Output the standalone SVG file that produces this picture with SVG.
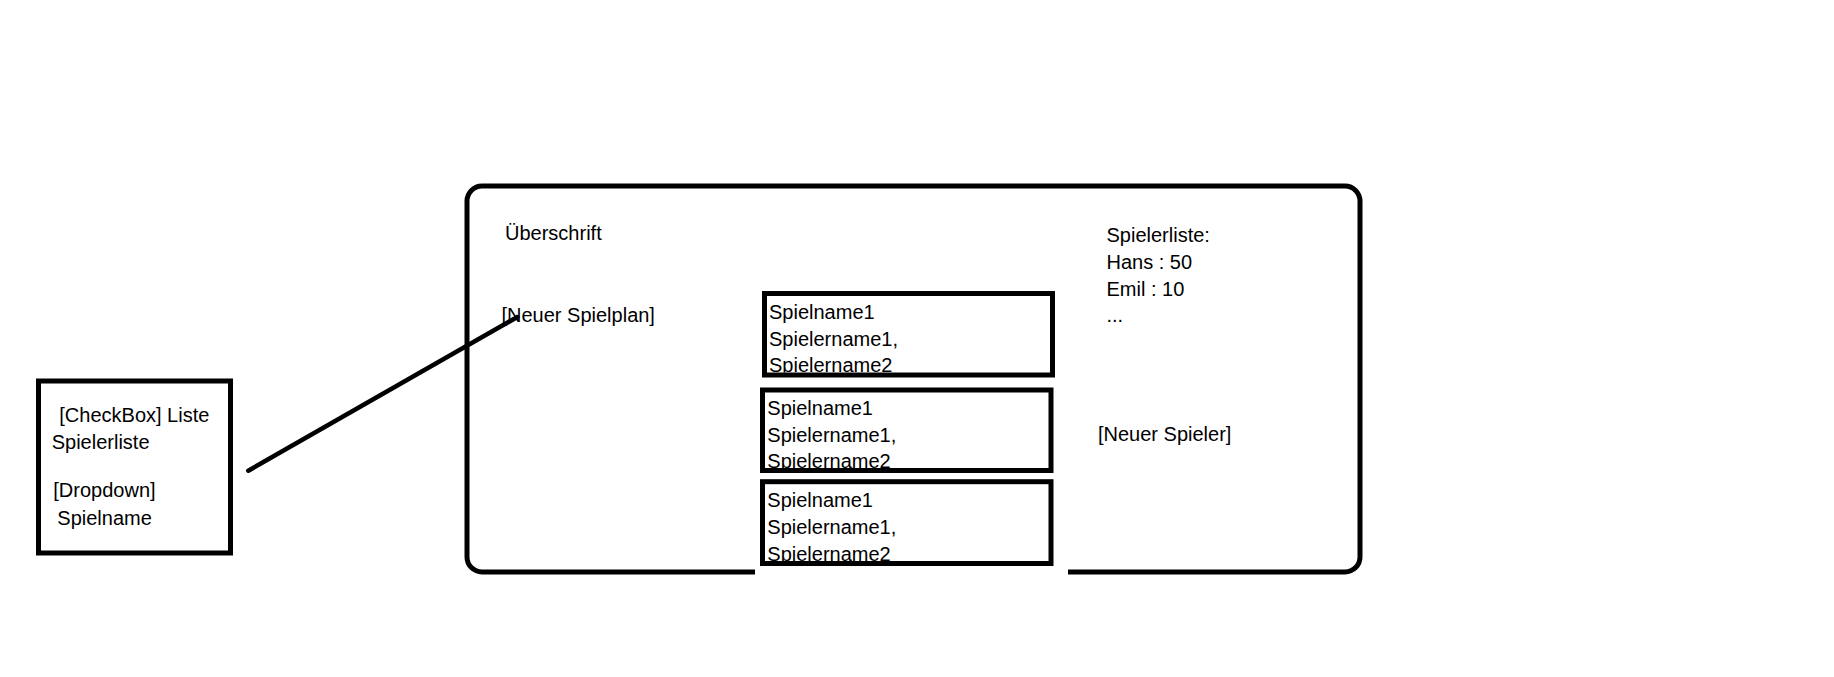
<svg xmlns="http://www.w3.org/2000/svg" width="1834" height="677" viewBox="0 0 1834 677">
  <style>
    .t { font-family: "Liberation Sans", Arial, sans-serif; font-size: 20px; fill: #000; }
    .box { fill: none; stroke: #000; stroke-width: 5; }
    .conn { fill: none; stroke: #000; stroke-width: 4.5; stroke-linecap: round; }
  </style>
  <defs>
    <clipPath id="c1"><rect x="767" y="296" width="283" height="76.5"/></clipPath>
    <clipPath id="c2"><rect x="765" y="392.5" width="283.5" height="75.5"/></clipPath>
    <clipPath id="c3"><rect x="765" y="484.2" width="283.5" height="76.8"/></clipPath>
  </defs>
  <rect width="1834" height="677" fill="#fff"/>

  <g id="main-frame">
    <path class="box" d="M755,572 H482 A15,15 0 0 1 467,557 V201 A15,15 0 0 1 482,186 H1345 A15,15 0 0 1 1360,201 V557 A15,15 0 0 1 1345,572 H1068"/>
    <text class="t" x="505" y="240">Überschrift</text>
    <text class="t" x="501.5" y="321.5">[Neuer Spielplan]</text>
  </g>

  <g id="spielerliste">
    <text class="t" x="1106.5" y="241.5">Spielerliste:</text>
    <text class="t" x="1106.5" y="268.5">Hans : 50</text>
    <text class="t" x="1106.5" y="295.5">Emil : 10</text>
    <text class="t" x="1106.5" y="321.5">...</text>
  </g>

  <g id="neuer-spieler">
    <text class="t" x="1098" y="441">[Neuer Spieler]</text>
  </g>

  <g id="spiel1">
    <g clip-path="url(#c1)">
      <text class="t" x="769" y="319">Spielname1</text>
      <text class="t" x="769" y="345.5">Spielername1,</text>
      <text class="t" x="769" y="372">Spielername2</text>
    </g>
    <rect class="box" x="764.5" y="293.5" width="288" height="81.5"/>
  </g>

  <g id="spiel2">
    <g clip-path="url(#c2)">
      <text class="t" x="767.3" y="415">Spielname1</text>
      <text class="t" x="767.3" y="441.5">Spielername1,</text>
      <text class="t" x="767.3" y="467.8">Spielername2</text>
    </g>
    <rect class="box" x="762.5" y="390" width="288.5" height="80.5"/>
  </g>

  <g id="spiel3">
    <g clip-path="url(#c3)">
      <text class="t" x="767.3" y="507">Spielname1</text>
      <text class="t" x="767.3" y="533.5">Spielername1,</text>
      <text class="t" x="767.3" y="561">Spielername2</text>
    </g>
    <rect class="box" x="762.5" y="481.7" width="288.5" height="81.8"/>
  </g>

  <g id="dialog">
    <rect class="box" x="38.5" y="381" width="192" height="172"/>
    <text class="t" x="59.3" y="421.7">[CheckBox] Liste</text>
    <text class="t" x="51.7" y="449">Spielerliste</text>
    <text class="t" x="53.3" y="497.3">[Dropdown]</text>
    <text class="t" x="57.3" y="525">Spielname</text>
  </g>

  <g id="connectors">
    <line class="conn" x1="248.3" y1="470.7" x2="517.3" y2="317"/>
  </g>
</svg>
